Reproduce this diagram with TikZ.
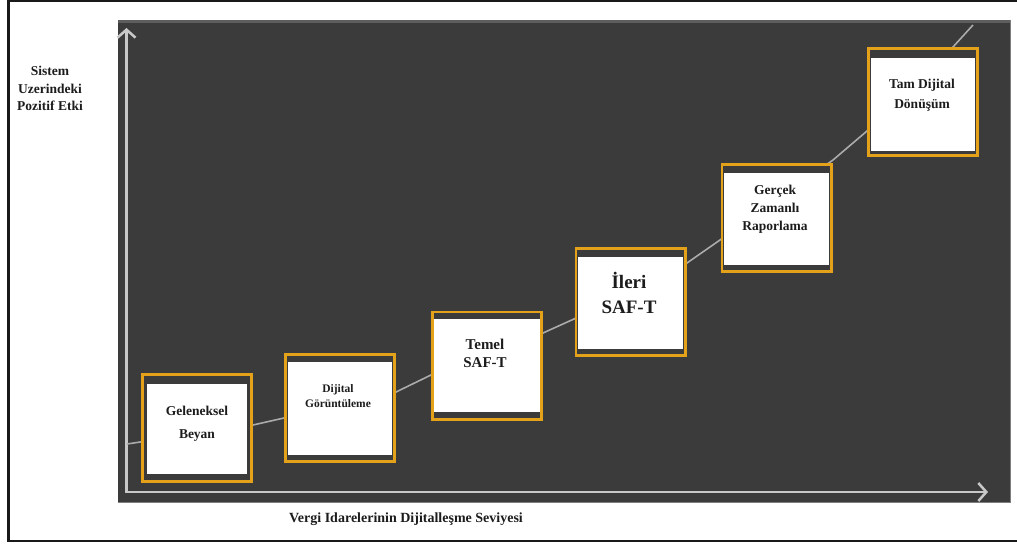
\documentclass[tikz,border=0pt]{standalone}
\usepackage{fontspec}
\setmainfont{Liberation Serif}
\usetikzlibrary{arrows.meta,calc}

\definecolor{panel}{HTML}{3B3B3B}
\definecolor{panelrim}{HTML}{5E5E5E}
\definecolor{axisgray}{HTML}{C8C8C8}
\definecolor{trendgray}{HTML}{ABABAB}
\definecolor{amber}{HTML}{E3A21A}
\definecolor{ink}{HTML}{1C1C1C}

\tikzset{
  stage/.style={draw=amber, fill=panel, line width=2.6pt,
    minimum width=109.4pt, minimum height=107.4pt,
    inner sep=0pt, outer sep=0pt},
  stagetext/.style={align=center, text=ink, inner sep=0pt},
  axisline/.style={draw=axisgray, line width=2.5pt,
    -{Straight Barb[length=8pt,width=18pt]}},
  trend/.style={draw=trendgray, line width=1.6pt, line join=round},
}

% white card inside a stage box: side inset, top strip, bottom strip
\newcommand{\stagecard}[4]{%
  \fill[white] ($(#1.north west)+(#2,#3)$) rectangle ($(#1.south east)+(-#2,-#4)$);}

\begin{document}
\begin{tikzpicture}[x=1pt,y=-1pt]
\useasboundingbox (0,0) rectangle (1017,545);
\clip (0,0) rectangle (1017,545);

% page frame
\draw[line width=2.4pt, draw=black!90] (8.3,0.6) rectangle (1040,541);

% chart panel
\fill[panel] (117.5,20) rectangle (1010,502);
\fill[panelrim] (117.5,20) rectangle (1010,23);
\draw[panelrim!80, line width=0.8pt] (1010,20) -- (1010,502) -- (117.5,502);

% axes
\coordinate (origin) at (126.5,492);
\coordinate (ytip) at (126.5,28);
\coordinate (xtip) at (988,492);
\draw[axisline] (origin) -- (ytip);
\draw[axisline] ($(origin)+(-1.25,0)$) -- (xtip);

% trend line running behind the stages
\coordinate (t0) at (127,444);
\coordinate (tend) at (973,25);
\draw[trend] (t0) -- (253,425) -- (284,418) -- (396,392) -- (431,375)
  -- (543,333) -- (574,319) -- (687,263) -- (720,240) -- (833,160)
  -- (867,131) -- (953,47) -- (tend);

% stages
\node[stage] (b1) at (197,428) {};
\node[stage] (b2) at (340,408) {};
\node[stage] (b3) at (487,365.5) {};
\node[stage] (b4) at (630.5,302) {};
\node[stage] (b5) at (776.5,218) {};
\node[stage] (b6) at (923,102) {};

\stagecard{b1}{5}{10}{8}
\stagecard{b2}{2.5}{8}{7}
\stagecard{b3}{1.5}{7}{7}
\stagecard{b4}{2.5}{9}{7}
\stagecard{b5}{2}{9}{7}
\stagecard{b6}{2.5}{10}{5}

% stage labels
\node[stagetext, font=\bfseries\fontsize{13.5}{23}\selectfont] (l1) at (197,424) {Geleneksel\\Beyan};
\node[stagetext, font=\bfseries\fontsize{11.5}{15}\selectfont] (l2) at (338,396) {Dijital\\Görüntüleme};
\node[stagetext, font=\bfseries\fontsize{15}{18}\selectfont] (l3) at (485,353) {Temel\\SAF-T};
\node[stagetext, font=\bfseries\fontsize{19}{25}\selectfont] (l4) at (629,293) {İleri\\SAF-T};
\node[stagetext, font=\bfseries\fontsize{13.5}{18}\selectfont] (l5) at (775,209.5) {Gerçek\\Zamanlı\\Raporlama};
\node[stagetext, font=\bfseries\fontsize{13.5}{20}\selectfont] (l6) at (922,95) {Tam Dijital\\Dönüşüm};

% axis titles
\node[stagetext, font=\bfseries\fontsize{13.5}{17.5}\selectfont] (ylab) at (50,88.5) {Sistem\\Uzerindeki\\Pozitif Etki};
\node[stagetext, font=\bfseries\fontsize{14}{17}\selectfont] (xlab) at (406,519) {Vergi Idarelerinin Dijitalleşme Seviyesi};
\end{tikzpicture}
\end{document}
